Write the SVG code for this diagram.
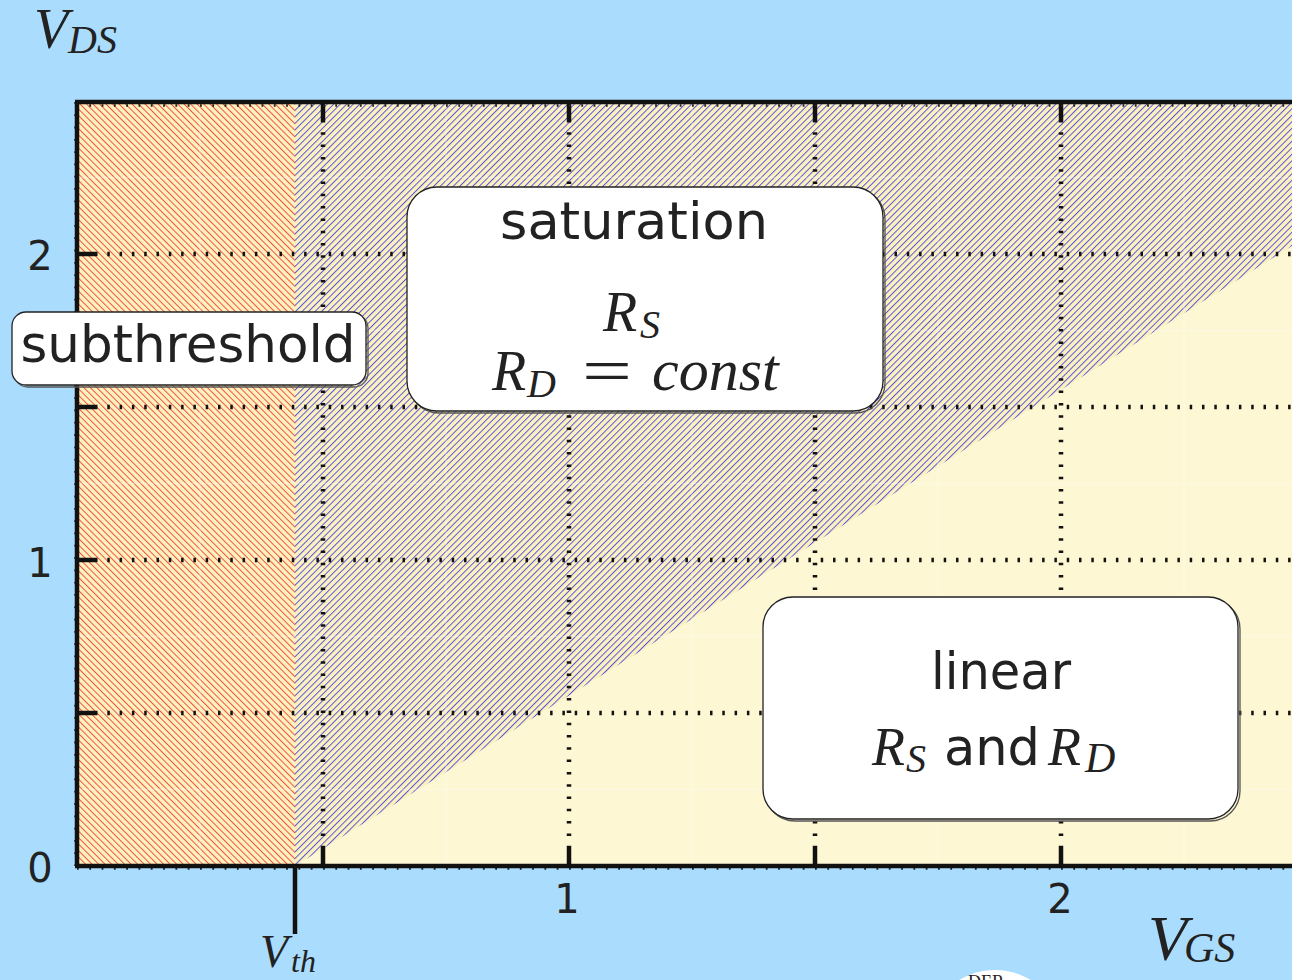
<svg xmlns="http://www.w3.org/2000/svg" width="1292" height="980" viewBox="0 0 1292 980">
<defs>
<pattern id="hatchRed" patternUnits="userSpaceOnUse" width="4.6" height="10" patternTransform="rotate(-45)">
<rect width="4.6" height="10" fill="#fdf1c0"/>
<rect x="1" y="0" width="0.9" height="10" fill="#f04430"/>
</pattern>
<pattern id="hatchBlue" patternUnits="userSpaceOnUse" width="4.6" height="10" patternTransform="rotate(45)">
<rect width="4.6" height="10" fill="#fdf1c0"/>
<rect x="1" y="0" width="0.9" height="10" fill="#4848dc"/>
</pattern>
<style>
.sans{font-family:"DejaVu Sans","Liberation Sans",sans-serif;fill:#222}
.math{font-family:"Liberation Serif","DejaVu Serif",serif;font-style:italic;fill:#222}
.rm{font-family:"Liberation Serif","DejaVu Serif",serif;fill:#222}
.box{fill:#fff;stroke:#222;stroke-width:1.3}
.shadow{fill:none;stroke:#555;stroke-width:1.3}
.grid{stroke:#111;stroke-width:4.5;stroke-dasharray:2.5 9.8;fill:none}
.tick{stroke:#111;stroke-width:4.5;fill:none}
.minor{stroke:#fff;stroke-opacity:0.3;stroke-width:1.5;fill:none}
.axis{stroke:#111;stroke-width:4.5;fill:none}
.mt{stroke:#222;stroke-width:2.5;stroke-dasharray:1.8 10.5;fill:none}
</style>
</defs>
<rect x="0" y="0" width="1292" height="980" fill="#aadcfd"/>

<g id="regions">
<rect x="77" y="102" width="1215" height="764" fill="#fef7d4"/>
<rect x="77" y="102" width="218" height="764" fill="url(#hatchRed)"/>
<polygon points="295,102 1292,102 1292,246 295,866" fill="url(#hatchBlue)"/>
</g>

<g id="grid">
<path class="minor" d="M200,102V866 M446,102V866 M692,102V866 M938,102V866 M1184,102V866 M77,177.5H1292 M77,330.5H1292 M77,483.5H1292 M77,636.5H1292 M77,789.5H1292"/>
<path class="grid" d="M323,120V848 M569,120V848 M815,120V848 M1061,120V848"/>
<path class="grid" d="M95,254H1292 M95,407H1292 M95,560H1292 M95,713H1292"/>
<path class="tick" d="M323,102V120 M569,102V120 M815,102V120 M1061,102V120 M323,848V866 M569,848V866 M815,848V866 M1061,848V866 M77,254H95 M77,407H95 M77,560H95 M77,713H95"/>
<path class="mt" d="M77,105.5H1292 M77,868.5H1292 M75.5,102V866"/>
</g>

<g id="axes">
<path class="axis" d="M77,102V866 M75,102H1292 M75,866H1292"/>
<path class="axis" d="M295,866V934"/>
</g>

<g id="tick-labels">
<text class="sans" x="40" y="882" font-size="40" text-anchor="middle">0</text>
<text class="sans" x="40" y="577" font-size="40" text-anchor="middle">1</text>
<text class="sans" x="40" y="270" font-size="40" text-anchor="middle">2</text>
<text class="sans" x="567" y="913" font-size="40" text-anchor="middle">1</text>
<text class="sans" x="1060" y="913" font-size="40" text-anchor="middle">2</text>
</g>

<g id="axis-labels">
<text class="math" x="34" y="48" font-size="56">V</text>
<text class="math" x="68" y="53" font-size="40">DS</text>
<text class="math" x="1148" y="960" font-size="64">V</text>
<text class="math" x="1184" y="962" font-size="42">GS</text>
<text class="math" x="260" y="967" font-size="46">V</text>
<text class="math" x="291" y="972" font-size="32">th</text>
</g>

<g id="node-subthreshold">
<rect class="shadow" x="14" y="314" width="354" height="73" rx="14"/>
<rect class="box" x="12" y="312" width="354" height="73" rx="14"/>
<text class="sans" x="188" y="362" font-size="51" text-anchor="middle" textLength="335" lengthAdjust="spacingAndGlyphs">subthreshold</text>
</g>

<g id="node-saturation">
<rect class="shadow" x="409" y="189" width="476" height="224" rx="30"/>
<rect class="box" x="407" y="187" width="476" height="224" rx="30"/>
<text class="sans" x="634" y="239" font-size="51" text-anchor="middle" textLength="268" lengthAdjust="spacingAndGlyphs">saturation</text>
<text class="math" x="603" y="331" font-size="56">R</text>
<text class="math" x="640" y="338" font-size="40">S</text>
<text class="math" x="492" y="390" font-size="56">R</text>
<text class="math" x="527" y="397" font-size="40">D</text>
<text class="rm" x="582" y="392" font-size="64" textLength="50" lengthAdjust="spacingAndGlyphs">=</text>
<text class="math" x="652" y="390" font-size="60">const</text>
</g>

<g id="node-linear">
<rect class="shadow" x="765" y="599" width="475" height="222" rx="30"/>
<rect class="box" x="763" y="597" width="475" height="222" rx="30"/>
<text class="sans" x="1001" y="689" font-size="51" text-anchor="middle" textLength="140" lengthAdjust="spacingAndGlyphs">linear</text>
<text class="math" x="872" y="765" font-size="54">R</text>
<text class="math" x="906" y="772" font-size="40">S</text>
<text class="sans" x="944" y="765" font-size="51" textLength="96" lengthAdjust="spacingAndGlyphs">and</text>
<text class="math" x="1048" y="765" font-size="54">R</text>
<text class="math" x="1085" y="772" font-size="42">D</text>
</g>

<g id="stamp">
<ellipse cx="995" cy="1025" rx="62" ry="55" fill="#fff"/>
<text class="rm" x="968" y="988" font-size="18">DER</text>
</g>
<g id="connectors"/>
</svg>
